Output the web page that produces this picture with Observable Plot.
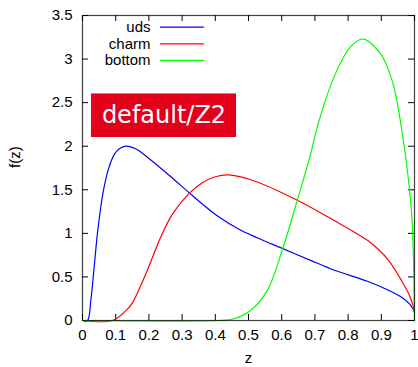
<!DOCTYPE html>
<html><head><meta charset="utf-8">
<script src="https://cdn.jsdelivr.net/npm/d3@7"></script>
<script src="https://cdn.jsdelivr.net/npm/@observablehq/plot@0.6"></script>
<style>body{margin:0;background:#fff}</style>
</head><body><div id="chart"></div>
<script>
// ---- data ----
const seriesNames = ["uds", "charm", "bottom"];
const seriesColors = ["#0000ff", "#ff0000", "#00ff00"];

const udsZ = [0, 0.015, 0.025, 0.035, 0.045, 0.055, 0.065, 0.08, 0.10, 0.13, 0.16, 0.2, 0.26, 0.32, 0.36, 0.41, 0.47, 0.526, 0.60, 0.687, 0.757, 0.858, 0.92, 0.96, 0.985, 0.997, 1.0];
const udsF = [0, 0, 0.23, 0.61, 1.0, 1.30, 1.53, 1.76, 1.93, 2.0, 1.97, 1.86, 1.67, 1.47, 1.34, 1.19, 1.05, 0.95, 0.83, 0.69, 0.58, 0.45, 0.35, 0.27, 0.19, 0.12, 0.09];

const charmZ = [0, 0.09, 0.13, 0.15, 0.166, 0.18, 0.2, 0.236, 0.271, 0.319, 0.361, 0.40, 0.441, 0.526, 0.647, 0.687, 0.757, 0.858, 0.89, 0.922, 0.962, 0.987, 0.997, 1.0];
const charmF = [0, 0, 0.11, 0.2, 0.32, 0.44, 0.62, 0.96, 1.22, 1.45, 1.58, 1.65, 1.67, 1.59, 1.38, 1.30, 1.15, 0.92, 0.82, 0.69, 0.45, 0.27, 0.15, 0.1];

const bottomZ = [0, 0.41, 0.456, 0.506, 0.556, 0.601, 0.647, 0.687, 0.707, 0.757, 0.807, 0.845, 0.898, 0.922, 0.938, 0.962, 0.982, 0.992, 0.997, 1.0];
const bottomF = [0, 0, 0.02, 0.115, 0.34, 0.80, 1.38, 1.91, 2.22, 2.79, 3.14, 3.23, 3.06, 2.87, 2.68, 2.18, 1.61, 1.19, 0.7, 0];

const xTicks = [0, 0.1, 0.2, 0.3, 0.4, 0.5, 0.6, 0.7, 0.8, 0.9, 1];
const xTickLabels = ["0", "0.1", "0.2", "0.3", "0.4", "0.5", "0.6", "0.7", "0.8", "0.9", "1"];
const yTicks = [0, 0.5, 1, 1.5, 2, 2.5, 3, 3.5];
const yTickLabels = ["0", "0.5", "1", "1.5", "2", "2.5", "3", "3.5"];

const xLabel = "z";
const yLabel = "f(z)";
const tagText = "default/Z2";

// ---- build table ----
const seriesZ = [udsZ, charmZ, bottomZ];
const seriesF = [udsF, charmF, bottomF];
const rows = seriesNames.flatMap((name, s) => seriesZ[s].map((z, i) => ({series: name, z, f: seriesF[s][i]})));

const W = 418, H = 367;
const mL = 82, mR = 4, mT = 15, mB = 47;
const innerW = W - mL - mR, innerH = H - mT - mB;
const tick = 6;

const legendY = i => 3.366 - i * 0.191;

const chart = Plot.plot({
  width: W, height: H,
  marginLeft: mL, marginRight: mR, marginTop: mT, marginBottom: mB,
  style: {fontFamily: "'Liberation Sans', Arial, sans-serif", fontSize: "15px", color: "#000", background: "#fff"},
  x: {domain: [0, 1]},
  y: {domain: [0, 3.5]},
  color: {domain: seriesNames, range: seriesColors},
  marks: [
    Plot.axisX(xTicks, {tickSize: 0, tickPadding: 9, tickFormat: (d, i) => xTickLabels[i], fontSize: 15, label: null}),
    Plot.axisY(yTicks, {tickSize: 0, tickPadding: 10, tickFormat: (d, i) => yTickLabels[i], fontSize: 15, label: null}),
    // inward ticks on all four sides
    Plot.tickX(xTicks, {x: d => d, insetTop: innerH - tick, stroke: "#000"}),
    Plot.tickX(xTicks, {x: d => d, insetBottom: innerH - tick, stroke: "#000"}),
    Plot.tickY(yTicks, {y: d => d, insetRight: innerW - tick, stroke: "#000"}),
    Plot.tickY(yTicks, {y: d => d, insetLeft: innerW - tick, stroke: "#000"}),
    // curves
    Plot.line(rows, {x: "z", y: "f", z: "series", stroke: "series", curve: "catmull-rom", strokeWidth: 1.2}),
    Plot.frame({stroke: "#000", strokeOpacity: 0.75, strokeWidth: 1.2}),
    // legend
    Plot.text(seriesNames, {x: 0.205, y: (d, i) => legendY(i), text: d => d, textAnchor: "end", fontSize: 15, fill: "#000"}),
    Plot.ruleY(seriesNames, {y: (d, i) => legendY(i), x1: 0.235, x2: 0.367, stroke: d => d, strokeWidth: 1.2}),
    // red tag
    Plot.rect([tagText], {x1: 0.027, x2: 0.464, y1: 2.10, y2: 2.60, fill: "#e2001a"}),
    Plot.text([tagText], {x: 0.2455, y: 2.35, text: d => d, fill: "#fff", fontSize: 24, fontFamily: "'DejaVu Sans', sans-serif"}),
    // axis titles
    Plot.text([xLabel], {frameAnchor: "bottom", dy: 42, text: d => d, fontSize: 15, fill: "#000"}),
    Plot.text([yLabel], {frameAnchor: "left", dx: -67, rotate: -90, text: d => d, fontSize: 15, fill: "#000"})
  ]
});
document.getElementById("chart").append(chart);
</script>
</body></html>
